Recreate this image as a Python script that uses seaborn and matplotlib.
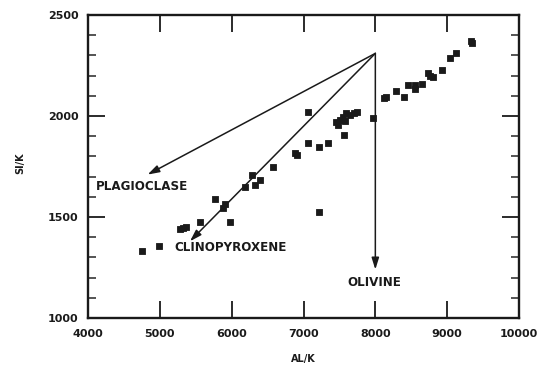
import matplotlib
matplotlib.use("Agg")
import matplotlib.pyplot as plt
import seaborn as sns
import pandas as pd
import numpy as np

# Sample compositions, molar ratios Al/K and Si/K
al_k = [4750, 4990, 5280, 5320, 5360, 5560, 5770, 5880, 5910, 5980,
        6190, 6280, 6330, 6390, 6580, 6880, 6910, 7060, 7215, 7340,
        7060, 7215, 7480, 7510, 7550, 7590, 7650, 7700, 7745, 7580,
        7450, 7565, 7965, 8120, 8150, 8290, 8400, 8455, 8550, 8650,
        8550, 8735, 8805, 8760, 8930, 9040, 9120, 9345, 9330]
si_k = [1332, 1357, 1441, 1446, 1451, 1475, 1589, 1545, 1564, 1475,
        1649, 1708, 1658, 1683, 1748, 1817, 1807, 1866, 1847, 1866,
        2020, 1525, 1955, 1980, 1995, 2015, 2005, 2015, 2020, 1975,
        1970, 1906, 1990, 2089, 2094, 2124, 2094, 2153, 2153, 2158,
        2134, 2213, 2193, 2198, 2228, 2287, 2312, 2361, 2371]

# Fractionation vectors radiating from the parental composition
origin_al = 8000
origin_si = 2310
minerals = ["PLAGIOCLASE", "CLINOPYROXENE", "OLIVINE"]
end_al = [4830, 5420, 8000]
end_si = [1710, 1380, 1240]
label_al = [4110, 5200, 7610]
label_si = [1653, 1347, 1178]

x_ticks = [4000, 5000, 6000, 7000, 8000, 9000, 10000]
y_ticks = [1000, 1500, 2000, 2500]

sns.set_style("ticks")
plt.rcParams["font.family"] = ["DejaVu Sans"]
plt.rcParams["font.weight"] = "bold"

fig = plt.figure(figsize=(5.42, 3.70), dpi=100)
ax = fig.add_axes([88 / 542, 1 - 318 / 370, 431 / 542, 303 / 370])

df = pd.DataFrame({"AL/K": al_k, "SI/K": si_k})
sns.scatterplot(data=df, x="AL/K", y="SI/K", ax=ax, marker="s", s=13,
                color="#1a1a1a", edgecolor="#1a1a1a", linewidth=0.6)

for name, ea, es, la, ls in zip(minerals, end_al, end_si, label_al, label_si):
    ax.annotate("", xy=(ea, es), xytext=(origin_al, origin_si),
                arrowprops=dict(arrowstyle="-|>,head_length=0.7,head_width=0.22",
                                color="#1a1a1a", lw=1.1, shrinkA=0, shrinkB=0))
    ax.text(la, ls, name, fontsize=8.6, fontweight="bold", color="#1a1a1a",
            va="center", ha="left")

ax.set_xlim(4000, 10000)
ax.set_ylim(1000, 2500)
ax.set_xticks(x_ticks)
ax.set_xticklabels([str(v) for v in x_ticks])
ax.set_yticks(y_ticks)
ax.set_yticks(np.arange(1100, 2500, 100), minor=True)

ax.tick_params(axis="both", which="major", direction="in", length=12, width=1.3,
               top=True, right=True, labelsize=8, colors="#1a1a1a", pad=7)
ax.tick_params(axis="y", which="minor", direction="in", length=6, width=1.1,
               left=True, right=True)
ax.tick_params(axis="x", which="major", pad=8)
for lab in ax.get_xticklabels() + ax.get_yticklabels():
    lab.set_fontweight("bold")

for sp in ax.spines.values():
    sp.set_linewidth(1.7)
    sp.set_color("#1a1a1a")

ax.set_xlabel("AL/K", fontsize=7, fontweight="bold", color="#1a1a1a")
ax.set_ylabel("SI/K", fontsize=7, fontweight="bold", color="#1a1a1a")
ax.xaxis.set_label_coords(0.5, -0.12)
ax.yaxis.set_label_coords(-0.145, 0.51)

fig.savefig("out.png", dpi=100)
